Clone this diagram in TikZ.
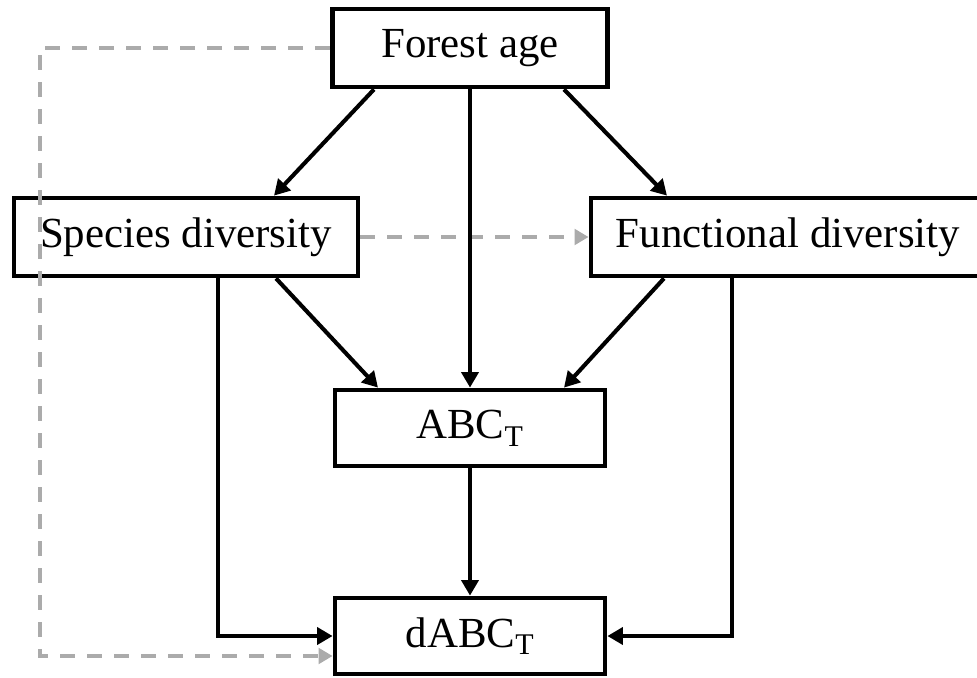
\documentclass[tikz,border=0pt]{standalone}
\usepackage{fontspec}
\setmainfont{Liberation Serif}
\usetikzlibrary{arrows.meta}
\begin{document}
\begin{tikzpicture}[x=0.025cm,y=-0.025cm,
  varbox/.style={draw,line width=3.4pt,rectangle,inner sep=0pt,
    font=\fontsize{30.5}{36}\selectfont},
  path/.style={line width=2.9pt,-{Triangle[length=11pt,width=12pt]}},
  weak/.style={line width=2.7pt,color=black!33,dash pattern=on 0.375cm off 0.3cm,
    -{Triangle[length=10pt,width=11pt]}}]
\useasboundingbox (0,0) rectangle (977,677);
\node[varbox,minimum width=275*0.025cm,minimum height=78*0.025cm] (age) at (470,48) {Forest age};
\node[varbox,minimum width=344*0.025cm,minimum height=78*0.025cm] (spec) at (186,237) {Species diversity};
\node[varbox,minimum width=394*0.025cm,minimum height=78*0.025cm] (func) at (788,237) {Functional diversity};
\node[varbox,minimum width=270*0.025cm,minimum height=76*0.025cm] (abc) at (470,428) {ABC\textsubscript{T}};
\node[varbox,minimum width=270*0.025cm,minimum height=76*0.025cm] (dabc) at (470,636) {dABC\textsubscript{T}};
\draw[weak] (age.west) -- ++(-290,0) |- ([shift={(0,20)}]dabc.west);
\draw[weak] (spec.east) -- (func.west);
\draw[path] ([shift={(-96,0)}]age.south) -- ([shift={(88,0)}]spec.north);
\draw[path] ([shift={(94,0)}]age.south) -- ([shift={(-121,0)}]func.north);
\draw[path] (age.south) -- (abc.north);
\draw[path] ([shift={(90,0)}]spec.south) -- ([shift={(-92,0)}]abc.north);
\draw[path] ([shift={(-124,0)}]func.south) -- ([shift={(94,0)}]abc.north);
\draw[path] (abc.south) -- (dabc.north);
\draw[path] ([shift={(32,0)}]spec.south) |- (dabc.west);
\draw[path] ([shift={(-56,0)}]func.south) |- (dabc.east);
\end{tikzpicture}
\end{document}
